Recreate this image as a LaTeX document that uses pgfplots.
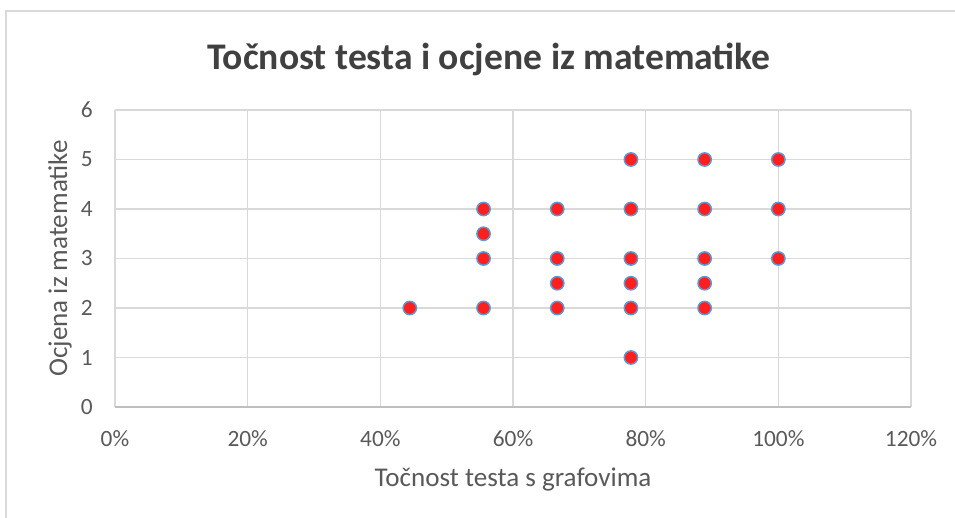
\documentclass[border=0pt]{standalone}
\usepackage{pgfplots}
\pgfplotsset{compat=1.18}
\usepackage{fontspec}
\setmainfont{Carlito}
\definecolor{txt}{HTML}{595959}
\definecolor{ttl}{HTML}{404040}
\definecolor{grd}{HTML}{D9D9D9}
\definecolor{axl}{HTML}{BFBFBF}
\definecolor{mfill}{HTML}{FF1F1F}
\definecolor{medge}{HTML}{5B9BD5}
\begin{document}
\begin{tikzpicture}[x=0.75pt,y=0.75pt]
\path[use as bounding box] (0,0) rectangle (955,517);
\draw[color=grd,line width=1.5pt] (6,506) rectangle (975,-20);
\begin{axis}[
  at={(115pt*0.75,110pt*0.75)}, anchor=south west,
  scale only axis, width=597pt, height=222.75pt,
  xmin=0, xmax=1.2, ymin=0, ymax=6,
  xtick={0,0.2,0.4,0.6,0.8,1.0,1.2},
  xticklabels={0\%,20\%,40\%,60\%,80\%,100\%,120\%},
  ytick={0,1,2,3,4,5,6},
  /pgf/number format/assume math mode=true,
  grid=major, major grid style={color=grd,line width=0.9pt},
  axis line style={draw=none},
  tick style={draw=none},
  tick label style={font=\fontsize{17.5}{20}\selectfont, color=txt},
  xticklabel style={anchor=base, inner sep=0pt, yshift=-29.25pt},
  yticklabel style={anchor=east, inner sep=0pt, xshift=-16.5pt},
  xlabel={Točnost testa s grafovima},
  ylabel={Ocjena iz matematike},
  label style={font=\fontsize{20.3}{23}\selectfont, color=txt},
  xlabel style={at={(axis description cs:0.5,-0.2458)}, anchor=center},
  ylabel style={at={(axis description cs:-0.0690,0.5)}, anchor=center, rotate=0},
  title={\textbf{Točnost testa i ocjene iz matematike}},
  title style={at={(axis description cs:0.470,1.144)}, anchor=center, font=\fontsize{28.2}{31}\selectfont, color=ttl},
  clip=false,
]
\draw[color=axl,line width=1.1pt] (axis cs:0,0) -- (axis cs:1.2,0);
\addplot[only marks, mark=*, mark size=5pt, mark options={fill=mfill, draw=medge, line width=1.1pt}] coordinates {
(0.4444,2)
(0.5556,2) (0.5556,3) (0.5556,3.5) (0.5556,4)
(0.6667,2) (0.6667,2.5) (0.6667,3) (0.6667,4)
(0.7778,1) (0.7778,2) (0.7778,2.5) (0.7778,3) (0.7778,4) (0.7778,5)
(0.8889,2) (0.8889,2.5) (0.8889,3) (0.8889,4) (0.8889,5)
(1,3) (1,4) (1,5)
};
\end{axis}
\end{tikzpicture}
\end{document}
